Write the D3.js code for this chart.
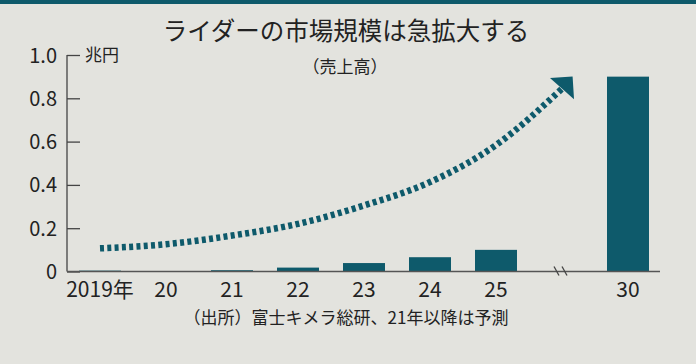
<!doctype html>
<html>
<head>
  <meta charset="utf-8">
  <title>ライダーの市場規模</title>
  <style>
    html, body { margin: 0; padding: 0; background: #e3e3de; }
    svg { display: block; }
    text { font-family: "Noto Sans CJK JP", "Noto Sans", sans-serif; fill: #222; }
  </style>
</head>
<body>
  <script src="https://d3js.org/d3.v7.min.js"></script>
  <script>
    // chart data
    var years = ['2019', '2020', '2021', '2022', '2023', '2024', '2025', 'gap', '2030'];
    var yearLabels = ['2019年', '20', '21', '22', '23', '24', '25', '', '30'];
    var sales = [0.004, 0.001, 0.006, 0.018, 0.039, 0.066, 0.1, null, 0.9];
    var trendYears = ['2019', '2020', '2021', '2022', '2023', '2024', '2025', 'gap'];
    var trendValues = [0.107, 0.126, 0.166, 0.22, 0.305, 0.413, 0.584, 0.845];
    var yTicks = [0, 0.2, 0.4, 0.6, 0.8, 1.0];

    var W = 696, H = 364;
    var teal = '#0e5a6b';

    var svg = d3.select('body').append('svg')
      .attr('width', W)
      .attr('height', H);

    svg.append('rect')
      .attr('width', W).attr('height', H)
      .attr('fill', '#e3e3de');
    svg.append('rect')
      .attr('width', W).attr('height', 4)
      .attr('fill', teal);

    svg.append('text')
      .attr('x', 346).attr('y', 40)
      .attr('text-anchor', 'middle')
      .style('font-size', '24.5px')
      .text('ライダーの市場規模は急拡大する');
    svg.append('text')
      .attr('x', 345).attr('y', 72.5)
      .attr('text-anchor', 'middle')
      .style('font-size', '17px')
      .text('（売上高）');

    var x = d3.scaleBand()
      .domain(years)
      .range([67, 661])
      .paddingInner(0.3636)
      .paddingOuter(0.1818);

    var y = d3.scaleLinear()
      .domain([0, 1])
      .range([271.5, 55]);

    // y axis
    var yAxis = d3.axisRight(y)
      .tickValues(yTicks)
      .tickSize(13)
      .tickFormat(function(d) { return d === 0 ? '0' : d3.format('.1f')(d); });

    var gy = svg.append('g')
      .attr('transform', 'translate(67,0)')
      .call(yAxis);
    gy.select('.domain').remove();
    gy.selectAll('.tick line').attr('stroke', '#444').attr('stroke-width', 1.3);
    gy.selectAll('.tick text')
      .attr('x', -10)
      .attr('dy', '0.35em')
      .attr('text-anchor', 'end')
      .attr('fill', '#222')
      .style('font-size', '20px')
      .style('font-family', '"Noto Sans CJK JP", sans-serif');

    svg.append('line')
      .attr('x1', 67).attr('x2', 67)
      .attr('y1', y(1)).attr('y2', y(0))
      .attr('stroke', '#444').attr('stroke-width', 1.3);

    svg.append('text')
      .attr('x', 85).attr('y', y(1))
      .attr('dy', '0.36em')
      .style('font-size', '17px')
      .text('兆円');

    // bars
    svg.selectAll('.bar')
      .data(years.filter(function(d, i) { return sales[i] !== null; }))
      .enter()
      .append('rect')
      .attr('class', 'bar')
      .attr('x', function(d) { return x(d); })
      .attr('width', x.bandwidth())
      .attr('y', function(d) { return y(sales[years.indexOf(d)]); })
      .attr('height', function(d) { return y(0) - y(sales[years.indexOf(d)]); })
      .attr('fill', teal);

    // baseline
    svg.append('line')
      .attr('x1', 67).attr('x2', 660)
      .attr('y1', y(0)).attr('y2', y(0))
      .attr('stroke', '#555').attr('stroke-width', 1.3);

    // break mark
    var gx = x('gap') + x.bandwidth() / 2;
    [-5, 3].forEach(function(off) {
      svg.append('line')
        .attr('x1', gx + off - 3).attr('x2', gx + off + 2)
        .attr('y1', y(0) - 5).attr('y2', y(0) + 4)
        .attr('stroke', '#444').attr('stroke-width', 1.3);
    });

    // x labels
    svg.selectAll('.xlabel')
      .data(years)
      .enter()
      .append('text')
      .attr('class', 'xlabel')
      .attr('x', function(d) { return x(d) + x.bandwidth() / 2; })
      .attr('y', 297)
      .attr('text-anchor', 'middle')
      .style('font-size', '21px')
      .text(function(d, i) { return yearLabels[i]; });

    svg.append('text')
      .attr('x', 346).attr('y', 324)
      .attr('text-anchor', 'middle')
      .style('font-size', '17px')
      .text('（出所）富士キメラ総研、21年以降は予測');

    // trend arrow
    var line = d3.line()
      .x(function(d, i) { return x(trendYears[i]) + x.bandwidth() / 2; })
      .y(function(d) { return y(d); })
      .curve(d3.curveMonotoneX);

    var path = svg.append('path')
      .datum(trendValues)
      .attr('d', line)
      .attr('fill', 'none')
      .attr('stroke', teal)
      .attr('stroke-width', 6.5)
      .attr('stroke-dasharray', '4,3.3');

    var node = path.node();
    var len = node.getTotalLength();
    var pEnd = node.getPointAtLength(len);
    var pPrev = node.getPointAtLength(len - 6);
    var ang = Math.atan2(pEnd.y - pPrev.y, pEnd.x - pPrev.x) - 0.1;
    var ux = Math.cos(ang), uy = Math.sin(ang);
    var half = 16, head = 16;
    var tri = [
      [pEnd.x + ux * head, pEnd.y + uy * head],
      [pEnd.x - uy * half, pEnd.y + ux * half],
      [pEnd.x + uy * half, pEnd.y - ux * half]
    ];
    svg.append('polygon')
      .attr('points', tri.map(function(p) { return p.join(','); }).join(' '))
      .attr('fill', teal);
  </script>
</body>
</html>
